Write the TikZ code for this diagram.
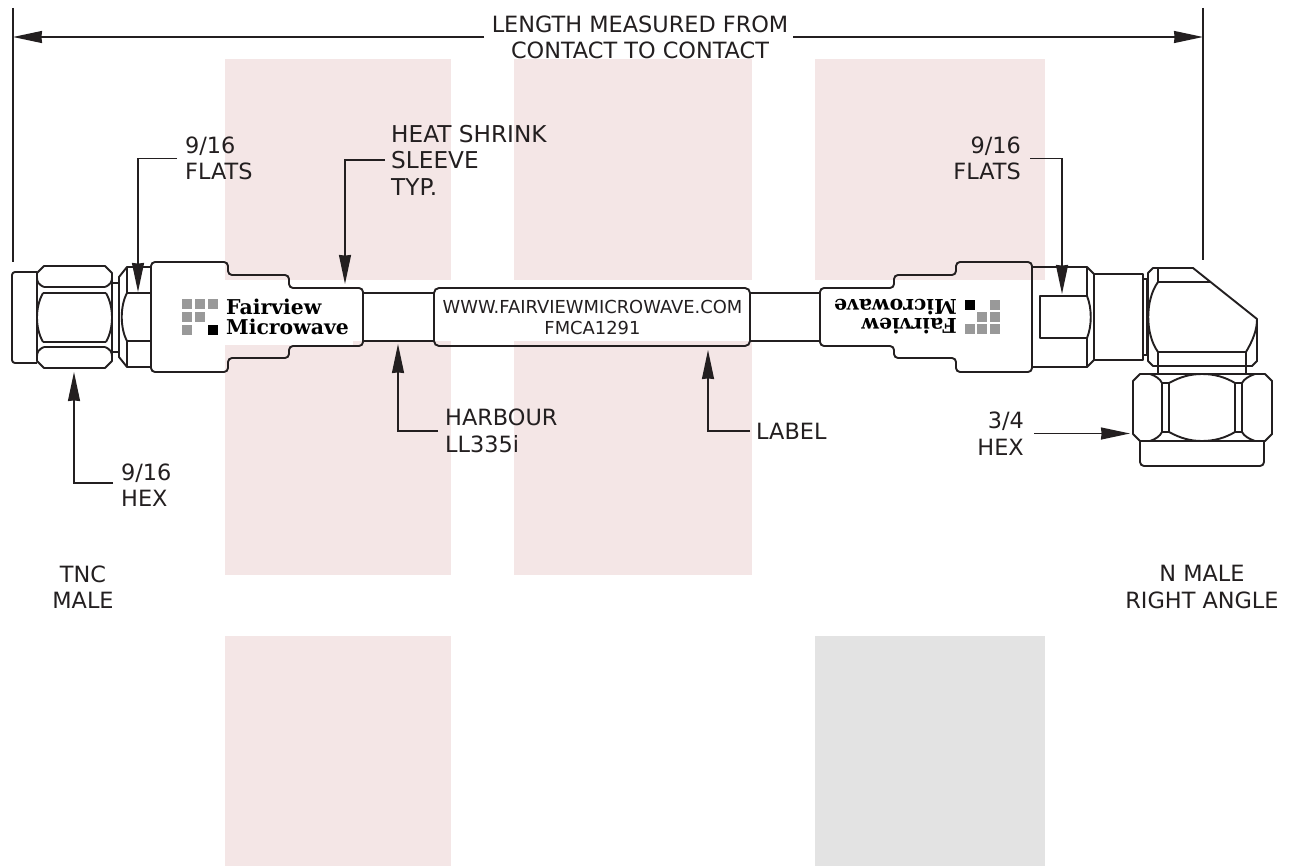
\documentclass[tikz,border=0pt]{standalone}
\usepackage{fontspec}
\setmainfont{DejaVu Sans}
\newfontfamily\logofont{DejaVu Serif}[BoldFont={DejaVu Serif Bold}]
\usetikzlibrary{arrows.meta,calc}
\definecolor{ink}{HTML}{231F20}
\definecolor{pinkbg}{HTML}{F4E6E6}
\definecolor{greybg}{HTML}{E3E3E3}
\definecolor{logogrey}{HTML}{999999}
\tikzset{
  x=1pt,y=-1pt,
  part/.style={draw=ink,line width=1.9pt,line join=round},
  body/.style={part,rounded corners=4pt},
  leader/.style={draw=ink,line width=1.5pt,-{Stealth[length=29pt,width=12pt,inset=0.6pt]}},
  dim/.style={draw=ink,line width=2.2pt},
  lab/.style={text=ink,font=\fontsize{22.4}{26.5}\selectfont,inner sep=0pt,align=left},
  labc/.style={lab,align=center},
  labr/.style={lab,align=right},
  lbl/.style={text=ink,font=\fontsize{17.9}{21}\selectfont,inner sep=0pt,align=center},
  logotxt/.style={text=black,font=\logofont\bfseries\fontsize{20.4}{21}\selectfont,inner sep=0pt},
  sq/.style={fill=logogrey,draw=none},
  sqk/.style={fill=black,draw=none},
}
\begin{document}
\begin{tikzpicture}
\useasboundingbox (0,0) rectangle (1293,867);
\fill[white] (0,0) rectangle (1293,867);
% background panels
\fill[pinkbg] (225,59) rectangle (451,575);
\fill[pinkbg] (514,59) rectangle (752,575);
\fill[pinkbg] (815,59) rectangle (1045,280);
\fill[pinkbg] (225,636) rectangle (451,866);
\fill[greybg] (815,636) rectangle (1045,866);
\fill[white] (200,280) rectangle (1050,341);
\fill[white] (200,341) rectangle (353,345);
% cable
\draw[part] (363,293) -- (434,293) (363,341) -- (434,341);
\draw[part] (750,293) -- (820,293) (750,341) -- (820,341);
% left connector
\draw[part,rounded corners=3pt] (37,272) -- (12,272) -- (12,363) -- (37,363);
\draw[part] (112,283) -- (119,283) (112,352) -- (119,352);
\draw[part] (44,266) -- (105,266) -- (112,273) -- (112,361) -- (105,368) -- (44,368) -- (37,361) -- (37,273) -- cycle;
\draw[part] (44,287) .. controls (39,285) and (37,282) .. (37,278);
\draw[part] (105,287) .. controls (110,285) and (112,282) .. (112,278);
\draw[part] (44,347) .. controls (39,349) and (37,352) .. (37,356);
\draw[part] (105,347) .. controls (110,349) and (112,352) .. (112,356);
\draw[part] (44,287) -- (105,287) (44,347) -- (105,347);
\draw[part] (43,293) -- (106,293) (43,342) -- (106,342);
\draw[part] (43,293) .. controls (35,307) and (35,328) .. (43,342);
\draw[part] (106,293) .. controls (114,307) and (114,328) .. (106,342);
% left hex flats
\draw[part] (151,267) -- (127,267) -- (119,277) -- (119,357) -- (127,367) -- (151,367);
\draw[part] (127,267) -- (127,293) (127,341) -- (127,367) (127,293) -- (151,293) (127,341) -- (151,341);
\draw[part] (127,293) .. controls (120,306) and (120,328) .. (127,341);
% left body
\draw[body] (151,262) -- (228,262) -- (228,275) -- (289,275) -- (289,288) -- (363,288) -- (363,346) -- (289,346) -- (289,358) -- (228,358) -- (228,372) -- (151,372) -- cycle;
% label
\node[draw=ink,line width=1.9pt,rounded corners=5pt,minimum width=316pt,minimum height=58pt,inner sep=0pt] (labelbox) at (592,317) {};
\node[lbl] (labeltext) at (592.5,317) {WWW.FAIRVIEWMICROWAVE.COM\\FMCA1291};
% right body
\draw[body] (1032,262) -- (956,262) -- (956,275) -- (894,275) -- (894,288) -- (820,288) -- (820,346) -- (894,346) -- (894,358) -- (956,358) -- (956,372) -- (1032,372) -- cycle;
% right hex flats
\draw[part] (1032,267) -- (1087,267) -- (1094,274) -- (1094,360) -- (1087,367) -- (1032,367);
\draw[part] (1087,267) -- (1087,296) (1087,338) -- (1087,367);
\draw[part] (1087,296) -- (1040,296) -- (1040,338) -- (1087,338);
\draw[part] (1087,296) .. controls (1092,308) and (1092,326) .. (1087,338);
\draw[part] (1094,274) rectangle (1143,360);
\draw[part] (1143,279) rectangle (1147,355);
% elbow
\draw[part] (1153,268) -- (1193,268) -- (1257,319) -- (1257,361) -- (1252,366) -- (1153,366) -- (1148,361) -- (1148,273) -- cycle;
\draw[part] (1158,268) -- (1158,282) -- (1211,282);
\draw[part] (1158,282) .. controls (1145,300) and (1145,334) .. (1158,352);
\draw[part] (1158,352) -- (1246,352);
\draw[part] (1246,352) .. controls (1253,340) and (1257,330) .. (1257,319);
\draw[part] (1158,352) rectangle (1246,374);
% bottom cap
\draw[part,rounded corners=4pt] (1140,441) -- (1140,466) -- (1264,466) -- (1264,441);
% nut
\draw[part] (1140,374) -- (1265,374) -- (1272,381) -- (1272,434) -- (1265,441) -- (1140,441) -- (1133,434) -- (1133,381) -- cycle;
\draw[part] (1162,383) rectangle (1169,432);
\draw[part] (1235,383) rectangle (1242,432);
\draw[part] (1150,374) .. controls (1156,376) and (1160,379) .. (1162,383);
\draw[part] (1150,441) .. controls (1156,439) and (1160,436) .. (1162,432);
\draw[part] (1255,374) .. controls (1249,376) and (1244,379) .. (1242,383);
\draw[part] (1255,441) .. controls (1249,439) and (1244,436) .. (1242,432);
\draw[part] (1169,383) .. controls (1180,377) and (1190,374) .. (1202,374) .. controls (1214,374) and (1225,377) .. (1235,383);
\draw[part] (1169,432) .. controls (1180,438) and (1190,441) .. (1202,441) .. controls (1214,441) and (1225,438) .. (1235,432);
% left logo
\foreach \x/\y in {182/299,195/299,208/299,182/312,195/312,182/325}{\fill[sq] (\x,\y) rectangle ++(10,10);}
\fill[sqk] (208,325) rectangle ++(10,10);
\node[logotxt,anchor=base west] (logoA) at (226,314) {Fairview};
\node[logotxt,anchor=base west] (logoB) at (226,334) {Microwave};
% right logo
\foreach \x/\y in {990/300,977/312,990/312,965/324,977/324,990/324}{\fill[sq] (\x,\y) rectangle ++(10,10);}
\fill[sqk] (965,300) rectangle ++(10,10);
\node[logotxt,anchor=base west,rotate=180] (logoC) at (957,318.5) {Fairview};
\node[logotxt,anchor=base west,rotate=180] (logoD) at (957,299) {Microwave};
% overall dimension
\coordinate (extL) at (13,8); \coordinate (extLb) at (13,262);
\coordinate (extR) at (1203,8); \coordinate (extRb) at (1203,260);
\draw[dim] (extL) -- (extLb);
\draw[dim] (extR) -- (extRb);
\node[labc] (lenlab) at (640,37.5) {LENGTH MEASURED FROM\\CONTACT TO CONTACT};
\coordinate (dimL) at (13,37); \coordinate (dimR) at (1203,37);
\coordinate (dimLs) at (484,37); \coordinate (dimRs) at (793,37);
\draw[leader] (dimLs) -- (dimL);
\draw[leader] (dimRs) -- (dimR);
% callouts
\node[lab,anchor=west] (flatsL) at (185,158.5) {9/16\\FLATS};
\coordinate (tipFL) at (138,292);
\draw[leader] ($(flatsL.west)+(-8,0)$) -| (tipFL);
\node[lab,anchor=west,font=\fontsize{23.2}{26.5}\selectfont] (heat) at (391,160) {HEAT SHRINK\\SLEEVE\\TYP.};
\coordinate (tipH) at (345,284);
\draw[leader] ($(heat.west)+(-6,0)$) -| (tipH);
\node[lab,anchor=west] (hexL) at (121,485) {9/16\\HEX};
\coordinate (tipHL) at (74,372);
\draw[leader] ($(hexL.west)+(-8,-2)$) -| (tipHL);
\node[lab,anchor=west] (harbour) at (445,431) {HARBOUR\\LL335i};
\coordinate (tipHB) at (398,344);
\draw[leader] ($(harbour.west)+(-7,0)$) -| (tipHB);
\node[lab,anchor=west] (labellab) at (756,431) {LABEL};
\coordinate (tipLB) at (708,350);
\draw[leader] ($(labellab.west)+(-6,0)$) -| (tipLB);
\node[labr,anchor=east] (flatsR) at (1021,158.5) {9/16\\FLATS};
\coordinate (tipFR) at (1062,294);
\draw[leader] ($(flatsR.east)+(9,0)$) -| (tipFR);
\node[labr,anchor=east] (hexR) at (1024,433.5) {3/4\\HEX};
\coordinate (tipHR) at (1130,433.5);
\draw[leader] ($(hexR.east)+(10,0)$) -- (tipHR);
\node[labc] (tnc) at (83,587) {TNC\\MALE};
\node[labc] (nmale) at (1202,587) {N MALE\\RIGHT ANGLE};
\end{tikzpicture}
\end{document}
